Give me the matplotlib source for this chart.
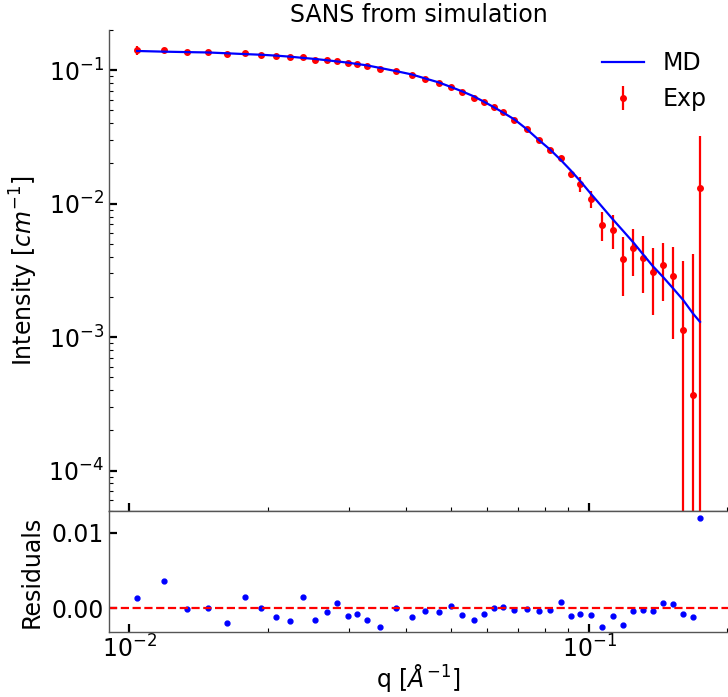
import matplotlib
matplotlib.use("Agg")
import matplotlib.pyplot as plt
import numpy as np

q = np.array([0.01039, 0.01186, 0.01333, 0.01480, 0.01633, 0.01784, 0.01936, 0.02082,
              0.02233, 0.02382, 0.02537, 0.02686, 0.02834, 0.02985, 0.03131, 0.03282,
              0.03513, 0.03805, 0.04111, 0.04401, 0.04706, 0.05005, 0.05296, 0.05608,
              0.05904, 0.06205, 0.06501, 0.06880, 0.07320, 0.07762, 0.08226, 0.08680,
              0.09125, 0.09559, 0.1010, 0.1069, 0.1127, 0.1188, 0.1249, 0.1308,
              0.1376, 0.1451, 0.1526, 0.1601, 0.1683, 0.1743])
exp_I = np.array([0.1405, 0.1411, 0.1364, 0.1357, 0.1318, 0.1334, 0.1304, 0.1273,
                  0.1245, 0.1251, 0.1196, 0.1182, 0.1168, 0.1128, 0.1103, 0.1071,
                  0.1012, 0.0983, 0.0917, 0.0862, 0.0805, 0.0751, 0.0684, 0.0621,
                  0.0573, 0.0528, 0.0482, 0.0424, 0.03595, 0.02974, 0.02516, 0.02192,
                  0.01655, 0.01392, 0.01088, 0.00695, 0.00637, 0.00382, 0.00468, 0.00394,
                  0.00306, 0.00346, 0.00286, 0.00113, 0.00037, 0.01316])
exp_err = np.array([0.0105, 0.006, 0.003, 0.003, 0.003, 0.003, 0.0025, 0.0025,
                    0.0025, 0.0025, 0.0025, 0.0025, 0.002, 0.002, 0.002, 0.002,
                    0.002, 0.002, 0.0018, 0.0016, 0.0015, 0.0014, 0.0013, 0.0012,
                    0.0011, 0.001, 0.001, 0.001, 0.0009, 0.0009, 0.0009, 0.0009,
                    0.0009, 0.0018, 0.0016, 0.0017, 0.0018, 0.0018, 0.0018, 0.0018,
                    0.0016, 0.0016, 0.0019, 0.0026, 0.0038, 0.0192])

# MD simulation curve
md_I = np.array([0.1392, 0.1376, 0.1365, 0.1357, 0.1337, 0.1319, 0.1304, 0.1285,
                 0.1262, 0.1236, 0.1212, 0.1187, 0.1161, 0.1139, 0.1111, 0.1087,
                 0.1038, 0.0983, 0.0929, 0.0866, 0.0810, 0.0748, 0.0693, 0.0637,
                 0.0580, 0.0528, 0.0481, 0.0427, 0.0361, 0.0301, 0.0254, 0.0212,
                 0.0177, 0.0148, 0.0118, 0.0094, 0.0076, 0.0062, 0.0051, 0.0042,
                 0.0034, 0.0028, 0.0023, 0.0019, 0.0015, 0.0013])

# residuals (Exp - MD)
resid = np.array([0.00128, 0.00353, -0.00013, -0.00004, -0.00194, 0.00146, 0.00004, -0.00115,
                  -0.00168, 0.0015, -0.00163, -0.00053, 0.00066, -0.00106, -0.00084, -0.00159,
                  -0.00256, 0.0, -0.00119, -0.00035, -0.00051, 0.00031, -0.00093, -0.00159,
                  -0.00071, 0.0, 0.00009, -0.00026, -0.00009, -0.0004, -0.00022, 0.00075,
                  -0.0011, -0.00084, -0.00088, -0.00243, -0.0011, -0.0022, -0.00035, -0.00022,
                  -0.0004, 0.00066, 0.00057, -0.00071, -0.00115, 0.0119])

FS = 17
plt.rcParams['font.size'] = FS

fig = plt.figure(figsize=(7.28, 6.97), dpi=100)
ax = fig.add_axes([0.1497, 0.2673, 0.8505, 0.6897])
axr = fig.add_axes([0.1497, 0.0928, 0.8505, 0.1745], sharex=ax)

ax.plot(q, md_I, color="blue", lw=1.6, label="MD", zorder=3)
ax.errorbar(q, exp_I, yerr=exp_err, fmt="o", color="red", ms=4, elinewidth=1.6,
            capsize=0, label="Exp", zorder=2)
ax.set_xscale("log")
ax.set_yscale("log")
ax.set_ylim(5e-5, 0.2)
ax.set_ylabel(r"Intensity [$cm^{-1}$]", labelpad=6)
ax.set_title("SANS from simulation", fontsize=FS)
ax.legend(loc="upper right", frameon=False, fontsize=FS, handlelength=1.8)
ax.tick_params(labelbottom=False)

axr.plot(q, resid, "o", color="blue", ms=3.5)
axr.axhline(0, color="red", ls="--", lw=1.6)
axr.set_ylim(-0.0032, 0.0129)
axr.set_yticks([0.0, 0.01])
axr.set_yticklabels(["0.00", "0.01"])
axr.set_ylabel("Residuals", labelpad=6)
axr.set_xlabel(r"q [$\AA^{-1}$]", labelpad=0)

for a in (ax, axr):
    a.spines["right"].set_visible(False)
    for s in a.spines.values():
        s.set_color("#555555")
        s.set_linewidth(1.0)
        s.set_zorder(5)
    a.tick_params(which="major", direction="in", length=5.5, width=1.6)
    a.tick_params(which="minor", direction="in", length=3, width=0.8)
axr.tick_params(axis="x", which="both", pad=2)
ax.spines["top"].set_visible(False)

fig.savefig("out.png", dpi=100)
